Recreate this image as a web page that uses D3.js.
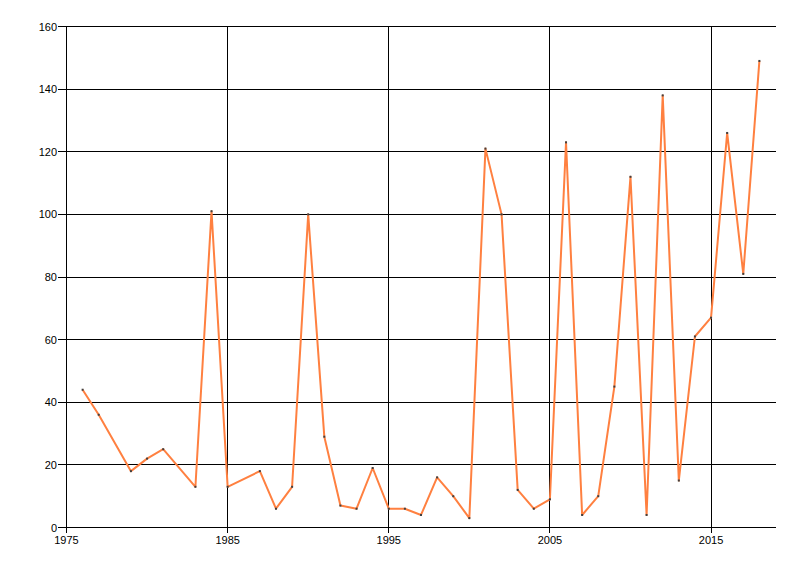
<!DOCTYPE html>
<html><head><meta charset="utf-8">
<script src="https://cdn.jsdelivr.net/npm/d3@7"></script>
<style>body{margin:0;background:#fff}svg{display:block}text{font-family:"Liberation Sans",Arial,sans-serif;font-size:11px;fill:#000}</style>
</head><body><svg id="c" width="800" height="576"></svg>
<script>
const years = [1976,1977,1979,1980,1981,1983,1984,1985,1987,1988,1989,1990,1991,1992,1993,1994,1995,1996,1997,1998,1999,2000,2001,2002,2003,2004,2005,2006,2007,2008,2009,2010,2011,2012,2013,2014,2015,2016,2017,2018];
const values = [44,36,18,22,25,13,101,13,18,6,13,100,29,7,6,19,6,6,4,16,10,3,121,100,12,6,9,123,4,10,45,112,4,138,15,61,67,126,81,149];
const xTicks = [1975,1985,1995,2005,2015];
const yTicks = [0,20,40,60,80,100,120,140,160];

const svg = d3.select("#c");
const L=66, R=776, T=26, B=527;
const x = d3.scaleLinear().domain([1975,2019]).range([L+0.5,R-0.5]);
const y = d3.scaleLinear().domain([0,160]).range([B+0.5,T+0.5]);
const px = v => Math.floor(v)+0.5;

const g = svg.append("g");
g.selectAll(".hg").data(yTicks).join("line")
  .attr("x1",L-8).attr("x2",R).attr("y1",d=>px(y(d))).attr("y2",d=>px(y(d)))
  .attr("stroke","#000").attr("stroke-width",1);
g.selectAll(".vg").data(xTicks).join("line")
  .attr("x1",d=>px(x(d))).attr("x2",d=>px(x(d))).attr("y1",T).attr("y2",B+6)
  .attr("stroke","#000").attr("stroke-width",1);
g.selectAll(".yl").data(yTicks).join("text")
  .attr("x",L-9).attr("y",d=>y(d)+4).attr("text-anchor","end").text(d=>d);
g.selectAll(".xl").data(xTicks).join("text")
  .attr("x",d=>x(d)).attr("y",B+17).attr("text-anchor","middle").text(d=>d);

const data = years.map((yr,i)=>({yr,v:values[i]}));
svg.append("path").datum(data)
  .attr("d",d3.line().x(d=>x(d.yr)).y(d=>y(d.v)))
  .attr("fill","none").attr("stroke","#ff8040").attr("stroke-width",2).attr("stroke-linejoin","round");
svg.selectAll(".pt").data(data).join("rect")
  .attr("x",d=>x(d.yr)-1).attr("y",d=>y(d.v)-1).attr("width",2).attr("height",2).attr("fill","#404040");
</script></body></html>
